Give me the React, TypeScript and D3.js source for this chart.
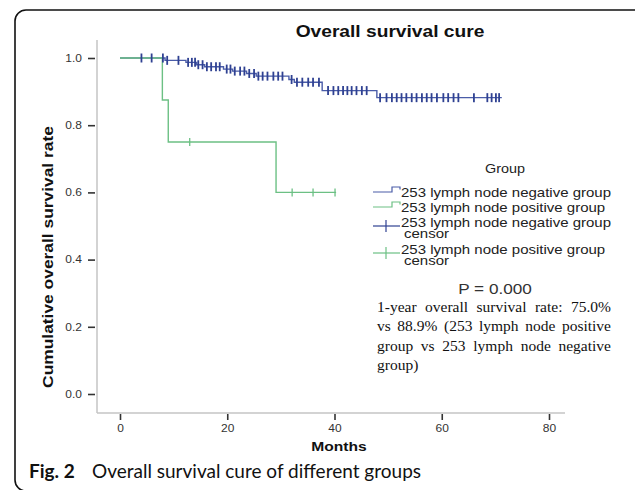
import React, { useEffect, useRef } from 'react';
import * as d3 from 'd3';

// Kaplan-Meier steps (months, cumulative survival)
const negTimes = [0, 8.4, 12.3, 14.3, 15.8, 19.3, 21.0, 23.6, 25.4, 31.5, 32.5, 37.7, 47.9];
const negSurv = [1, 0.993, 0.987, 0.98, 0.974, 0.967, 0.961, 0.954, 0.946, 0.936, 0.928, 0.903, 0.882];
const negEnd = 71.2;
const negCensor = [
  4.0, 5.9, 8.0, 8.8, 10.9, 12.7, 13.4, 14.0, 14.6, 15.4, 16.2, 17.0, 17.9, 18.6, 19.9, 20.6, 21.4,
  22.4, 23.2, 24.1, 25.0, 25.8, 26.6, 27.5, 28.6, 29.5, 30.3, 32.0, 33.0, 34.0, 35.1, 36.0, 37.1,
  38.8, 39.8, 40.7, 41.6, 42.4, 43.2, 44.1, 45.1, 46.0, 48.5, 49.7, 50.7, 51.6, 52.5, 53.4, 54.4,
  55.3, 56.3, 57.2, 58.1, 59.1, 60.3, 61.2, 62.2, 63.1, 66.0, 68.5, 69.3, 70.1, 70.7,
];
const posTimes = [0, 7.9, 9.0, 29.1];
const posSurv = [1, 0.875, 0.75, 0.6];
const posEnd = 40.3;
const posCensor = [13.0, 32.1, 36.0, 40.1];

const xTicks = [0, 20, 40, 60, 80];
const yTicks = [0, 0.2, 0.4, 0.6, 0.8, 1.0];

const legendLabels = [
  ['253 lymph node negative group'],
  ['253 lymph node positive group'],
  ['253 lymph node negative group', 'censor'],
  ['253 lymph node positive group', 'censor'],
];
const noteLines = [
  '1-year overall survival rate: 75.0%',
  'vs 88.9% (253 lymph node positive',
  'group vs 253 lymph node negative',
  'group)',
];

const blue = '#4a5ca8';
const blueDark = '#2f4192';
const green = '#6cc084';
const sans = '"Liberation Sans", Arial, sans-serif';
const serif = '"Liberation Serif", "Times New Roman", serif';
const stretch = 1.2; // the source plot is widened horizontally

const App: React.FC = () => {
  const svgRef = useRef<SVGSVGElement>(null);

  useEffect(() => {
    if (!svgRef.current) return;
    const svg = d3.select(svgRef.current);
    svg.selectAll('*').remove();

    const x = d3.scaleLinear().domain([0, 80]).range([120, 549]);
    const y = d3.scaleLinear().domain([0, 1]).range([394, 58]);

    const wideText = (tx: number, ty: number, txt: string, size: number, opts: { anchor?: string; bold?: boolean; fill?: string; rotate?: number } = {}) =>
      svg.append('text')
        .attr('transform', `translate(${tx},${ty})${opts.rotate ? ` rotate(${opts.rotate})` : ''} scale(${stretch},1)`)
        .attr('text-anchor', opts.anchor || 'start')
        .style('font-family', sans).style('font-size', `${size}px`)
        .style('font-weight', opts.bold ? 'bold' : 'normal')
        .attr('fill', opts.fill || '#111').text(txt);

    // frame
    svg.append('rect')
      .attr('x', 15).attr('y', 10).attr('width', 700).attr('height', 481).attr('rx', 11)
      .attr('fill', 'none').attr('stroke', '#111').attr('stroke-width', 1.6);

    wideText(390, 37, 'Overall survival cure', 16, { anchor: 'middle', bold: true });

    // axes
    svg.append('line').attr('x1', 97).attr('x2', 97).attr('y1', 40).attr('y2', 413)
      .attr('stroke', '#c4c4c4').attr('stroke-width', 1.5);
    svg.append('line').attr('x1', 97).attr('x2', 565).attr('y1', 413).attr('y2', 413)
      .attr('stroke', '#c4c4c4').attr('stroke-width', 1.5);

    const yAxis = svg.append('g').attr('transform', 'translate(95,0)')
      .call(d3.axisLeft(y).tickValues(yTicks).tickFormat(d3.format('.1f')).tickSize(7).tickPadding(6));
    yAxis.select('.domain').remove();
    yAxis.selectAll('line').attr('stroke', '#333').attr('stroke-width', 1.6);
    yAxis.selectAll('text').attr('x', -13 / stretch).attr('transform', `scale(${stretch},1)`)
      .style('font-family', sans).style('font-size', '10px').attr('fill', '#333');

    const xAxis = svg.append('g').attr('transform', 'translate(0,414)')
      .call(d3.axisBottom(x).tickValues(xTicks).tickFormat(d3.format('d')).tickSize(6).tickPadding(5));
    xAxis.select('.domain').remove();
    xAxis.selectAll('line').attr('stroke', '#333').attr('stroke-width', 1.6);
    xAxis.selectAll('text').attr('transform', `scale(${stretch},1)`)
      .style('font-family', sans).style('font-size', '10px').attr('fill', '#333');

    wideText(339, 451, 'Months', 13, { anchor: 'middle', bold: true });
    wideText(53, 257, 'Cumulative overall survival rate', 14.5, { anchor: 'middle', bold: true, rotate: -90 });

    // survival curves
    const step = d3.line<[number, number]>().curve(d3.curveStepAfter).x(d => x(d[0])).y(d => y(d[1]));
    const pts = (times: number[], surv: number[], end: number): [number, number][] =>
      [...times.map((t, i) => [t, surv[i]] as [number, number]), [end, surv[surv.length - 1]]];
    const survAt = (times: number[], surv: number[], t: number) => {
      let s = surv[0];
      times.forEach((tt, i) => { if (tt <= t) s = surv[i]; });
      return s;
    };

    svg.append('path').attr('d', step(pts(negTimes, negSurv, negEnd)))
      .attr('fill', 'none').attr('stroke', blue).attr('stroke-width', 1.4);
    svg.append('path').attr('d', step(pts(posTimes, posSurv, posEnd)))
      .attr('fill', 'none').attr('stroke', green).attr('stroke-width', 1.4);

    svg.selectAll('.neg-censor').data(negCensor).enter().append('line')
      .attr('class', 'neg-censor')
      .attr('x1', d => x(d)).attr('x2', d => x(d))
      .attr('y1', d => y(survAt(negTimes, negSurv, d)) - 4.5)
      .attr('y2', d => y(survAt(negTimes, negSurv, d)) + 4.5)
      .attr('stroke', blueDark).attr('stroke-width', 1.8);
    svg.selectAll('.pos-censor').data(posCensor).enter().append('line')
      .attr('class', 'pos-censor')
      .attr('x1', d => x(d)).attr('x2', d => x(d))
      .attr('y1', d => y(survAt(posTimes, posSurv, d)) - 4)
      .attr('y2', d => y(survAt(posTimes, posSurv, d)) + 4)
      .attr('stroke', green).attr('stroke-width', 1.3);

    // legend
    wideText(505, 173, 'Group', 12, { anchor: 'middle', fill: '#222' });
    const rowY = [192, 207, 226, 253];
    const colors = [blue, green, blueDark, green];
    rowY.forEach((ry, i) => {
      if (i < 2) {
        svg.append('path')
          .attr('d', `M373,${ry}H392V${ry - 5}H400V${ry - 2.5}`)
          .attr('fill', 'none').attr('stroke', colors[i]).attr('stroke-width', 1.2);
      } else {
        svg.append('line').attr('x1', 373).attr('x2', 400).attr('y1', ry).attr('y2', ry)
          .attr('stroke', colors[i]).attr('stroke-width', 1.2);
        svg.append('line').attr('x1', 386).attr('x2', 386).attr('y1', ry - 6).attr('y2', ry + 6)
          .attr('stroke', colors[i]).attr('stroke-width', 1.2);
      }
      const t = wideText(401, (i < 2 ? ry : ry - 4) + 4.5, '', 12.5, { fill: '#222' });
      legendLabels[i].forEach((s, j) => {
        t.append('tspan').attr('x', j === 0 ? 0 : 3 / stretch).attr('dy', j === 0 ? 0 : 11.5).text(s);
      });
    });

    wideText(495, 294, 'P = 0.000', 14.3, { anchor: 'middle', fill: '#333' });

    // justified note
    const left = 377;
    const right = 611;
    noteLines.forEach((line, i) => {
      const ly = 312 + i * 19.3;
      const words = line.split(' ');
      const g = svg.append('g');
      const nodes = words.map(w => g.append('text').attr('y', ly)
        .style('font-family', serif).style('font-size', '15.5px').attr('fill', '#111').text(w));
      const widths = nodes.map(n => (n.node() as SVGTextElement).getComputedTextLength());
      const total = d3.sum(widths);
      const gap = i < noteLines.length - 1 && words.length > 1
        ? (right - left - total) / (words.length - 1)
        : 4;
      let cx = left;
      nodes.forEach((n, k) => { n.attr('x', cx); cx += widths[k] + gap; });
    });

    // caption
    const cap = svg.append('text').attr('x', 29).attr('y', 478)
      .style('font-family', 'Lato, "Open Sans", sans-serif').style('font-size', '19px').attr('fill', '#111');
    cap.append('tspan').style('font-weight', 'bold').text('Fig. 2');
    cap.append('tspan').attr('x', 92).text('Overall survival cure of different groups');
  }, []);

  return (
    <svg ref={svgRef} width={635} height={490}
      style={{ position: 'absolute', left: 0, top: 0, background: '#fff' }} />
  );
};

export default App;
